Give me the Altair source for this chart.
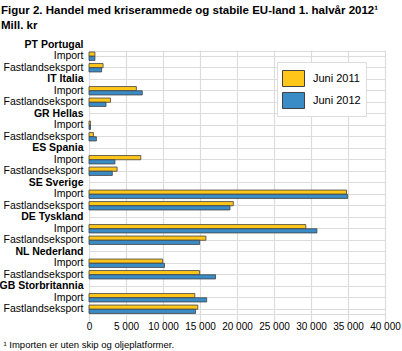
import altair as alt
import pandas as pd

countries = ["PT Portugal", "IT Italia", "GR Hellas", "ES Spania",
             "SE Sverige", "DE Tyskland", "NL Nederland", "GB Storbritannia"]
subrows = ["Import", "Fastlandseksport"]
series = ["Juni 2011", "Juni 2012"]

import_2011 = [800, 6400, 200, 7000, 34800, 29300, 9950, 14300]
import_2012 = [800, 7200, 200, 3500, 34950, 30800, 10200, 15900]
export_2011 = [1900, 2900, 600, 3800, 19500, 15800, 14950, 14700]
export_2012 = [1700, 2300, 1000, 3150, 19050, 14950, 17100, 14400]

x_ticks = list(range(0, 40001, 5000))
title_text = "Figur 2. Handel med kriserammede og stabile EU-land 1. halvår 2012¹"
subtitle_text = "Mill. kr"
footnote = "¹ Importen er uten skip og oljeplatformer."

rows = []
recs = []
for i, c in enumerate(countries):
    code = c.split()[0]
    rows.append(c)
    for sub, v11, v12 in [("Import", import_2011[i], import_2012[i]),
                          ("Fastlandseksport", export_2011[i], export_2012[i])]:
        rid = f"{code}|{sub}"
        rows.append(rid)
        recs.append({"row": rid, "series": series[0], "value": v11})
        recs.append({"row": rid, "series": series[1], "value": v12})

df = pd.DataFrame(recs)
FONT = "Liberation Sans"

chart = alt.Chart(df).mark_bar(stroke="#404040", strokeWidth=0.8).encode(
    x=alt.X("value:Q",
            scale=alt.Scale(domain=[0, 40000], nice=False),
            axis=alt.Axis(values=x_ticks, labelOverlap=False, labelFlush=False,
                          labelExpr="replace(format(datum.value, ','), ',', ' ')",
                          title=footnote, titleAnchor="start", titleAlign="left",
                          titleX=-86, titleY=33, titleBaseline="alphabetic",
                          titleFontWeight="normal", titleFontSize=9.5,
                          titleFont=FONT, titleColor="#000",
                          grid=True, gridColor="#dcdcdc", gridWidth=1.2,
                          ticks=False, domain=False, labelFontSize=10,
                          labelFont=FONT, labelColor="#000", labelPadding=7)),
    y=alt.Y("row:N",
            scale=alt.Scale(domain=rows, range=[-12, 264],
                            paddingInner=0.27, paddingOuter=0.135),
            axis=alt.Axis(title=None, domain=False, ticks=False,
                          grid=True, gridColor="#dcdcdc", gridWidth=1.2,
                          bandPosition=0.5,
                          gridOpacity=alt.condition("datum.value === 'PT Portugal'",
                                                    alt.value(0), alt.value(1)),
                          labelExpr="indexof(datum.value, '|') >= 0 ? split(datum.value, '|')[1] : datum.value",
                          labelFontWeight=alt.condition("indexof(datum.value, '|') < 0",
                                                        alt.value("bold"), alt.value("normal")),
                          labelFontSize=10.5, labelFont=FONT, labelColor="#000",
                          labelPadding=6)),
    yOffset=alt.YOffset("series:N", sort=series,
                        scale=alt.Scale(paddingInner=0, paddingOuter=0)),
    color=alt.Color("series:N",
                    scale=alt.Scale(domain=series, range=["#FFC61A", "#3A8CC6"]),
                    legend=alt.Legend(title=None, orient="none", legendX=188, legendY=11,
                                      symbolType="M-1,-0.73H1V0.73H-1Z", symbolSize=484,
                                      symbolStrokeColor="#404040", symbolStrokeWidth=1,
                                      symbolOpacity=1,
                                      labelFont=FONT, labelFontSize=11, labelColor="#000",
                                      labelOffset=8, rowPadding=0, padding=5,
                                      fillColor="white", strokeColor="#dddddd")),
).properties(
    width=296, height=263,
    autosize=alt.AutoSizeParams(type="none"),
    padding={"left": 89, "top": 51, "right": 17, "bottom": 37},
    title=alt.TitleParams(text=title_text, subtitle=subtitle_text, anchor="start",
                          font=FONT, fontSize=11.5, fontWeight="bold", color="#000",
                          subtitleFont=FONT, subtitleFontSize=11.5,
                          subtitleFontWeight="bold", subtitleColor="#000",
                          subtitlePadding=3, offset=8, dx=2),
).configure_view(stroke="#dcdcdc")

chart.save("out.html", embed_options={"renderer": "svg", "actions": False})
